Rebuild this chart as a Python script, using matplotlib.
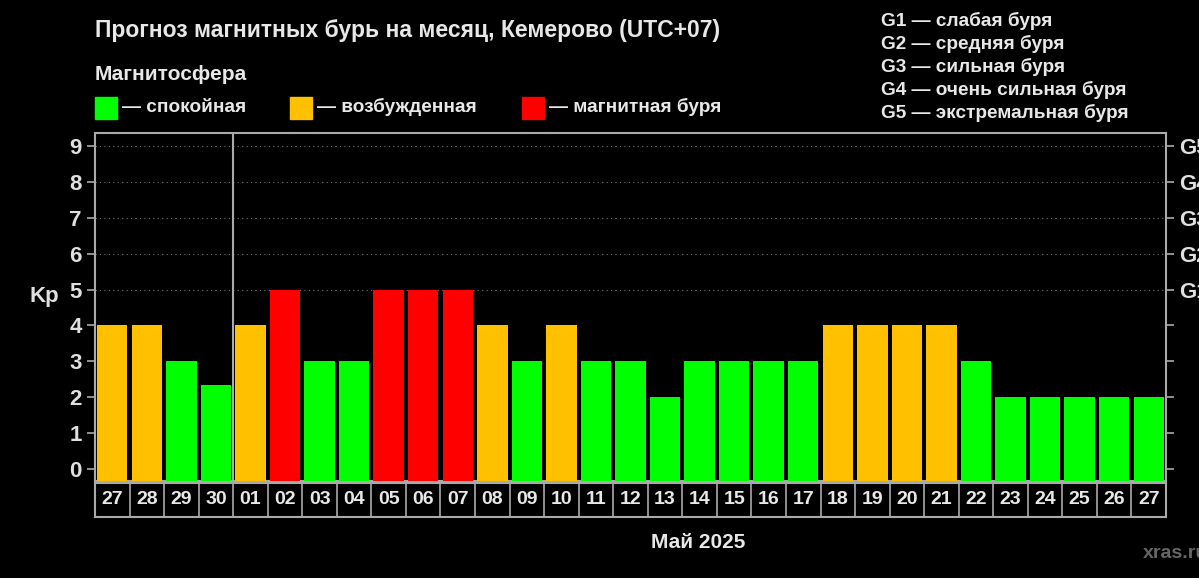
import matplotlib
matplotlib.use("Agg")
import matplotlib.pyplot as plt
from matplotlib.patches import Rectangle

days = ["27","28","29","30","01","02","03","04","05","06","07","08","09","10","11","12","13","14","15","16","17","18","19","20","21","22","23","24","25","26","27"]
kp = [4,4,3,2.33,4,5,3,3,5,5,5,4,3,4,3,3,2,3,3,3,3,4,4,4,4,3,2,2,2,2,2]
g_labels = ["G1","G2","G3","G4","G5"]
g_texts = ["G1 — слабая буря","G2 — средняя буря","G3 — сильная буря","G4 — очень сильная буря","G5 — экстремальная буря"]
legend_items = [("— спокойная","#00FF00"),("— возбужденная","#FFC000"),("— магнитная буря","#FF0000")]

plt.rcParams['font.family'] = ['Liberation Sans', 'DejaVu Sans']
plt.rcParams['font.weight'] = 'bold'
W, H = 1199, 578
fig = plt.figure(figsize=(W/100, H/100), dpi=100, facecolor='black')

def fx(px): return px / W
def fy(py): return 1 - py / H

ax = fig.add_axes([fx(95), fy(481), fx(1166)-fx(95), fy(133)-fy(481)], facecolor='black')
n = len(kp)
ymin, ymax = -0.33, 9.36
ax.set_xlim(-0.5, n-0.5)
ax.set_ylim(ymin, ymax)

def col(v):
    if v >= 5: return "#FF0000"
    if v >= 4: return "#FFC000"
    return "#00FF00"

ax.bar(range(n), [v - ymin for v in kp], bottom=ymin, width=0.88, color=[col(v) for v in kp], zorder=3)
for y in range(5, 10):
    ax.axhline(y, color='#777777', linestyle=(0, (1, 3)), linewidth=0.8, zorder=1)
ax.axvline(3.5, color='#aaaaaa', linewidth=1.5, zorder=4)
for s in ax.spines.values():
    s.set_color('#aaaaaa'); s.set_linewidth(1.5)
ax.set_xticks([])
ax.set_yticks(range(10))
ax.tick_params(axis='y', colors='#aaaaaa', labelcolor='#e0e0e0', labelsize=16, length=6, width=1.2)
ax.set_ylabel("Kp", color='#e0e0e0', fontsize=16, rotation=0, labelpad=18, fontweight='bold')
ax2 = ax.twinx()
ax2.set_ylim(ymin, ymax)
ax2.set_yticks(range(10))
ax2.set_yticklabels([""]*5 + g_labels)
ax2.tick_params(axis='y', colors='#aaaaaa', labelcolor='#e0e0e0', labelsize=16, length=6, width=1.2)
for s in ax2.spines.values():
    s.set_visible(False)

# date row
axd = fig.add_axes([fx(95), fy(517), fx(1166)-fx(95), fy(483)-fy(517)], facecolor='black')
axd.set_xlim(-0.5, n-0.5); axd.set_ylim(0, 1)
axd.set_xticks([]); axd.set_yticks([])
for s in axd.spines.values():
    s.set_color('#aaaaaa'); s.set_linewidth(1.5)
for i, d in enumerate(days):
    if i > 0:
        axd.axvline(i-0.5, color='#aaaaaa', linewidth=1.2)
    axd.text(i, 0.5, d, color='#e8e8e8', fontsize=14, ha='center', va='center', fontweight='bold')

fig.text(fx(698), fy(543), "Май 2025", color='#e8e8e8', fontsize=15, ha='center', va='center', fontweight='bold')
fig.text(fx(1143), fy(553), "xras.ru", color='#666666', fontsize=14, ha='left', va='center', fontweight='bold')
fig.text(fx(95), fy(31), "Прогноз магнитных бурь на месяц, Кемерово (UTC+07)", color='#e8e8e8', fontsize=16.5, ha='left', va='center', fontweight='bold')
fig.text(fx(95), fy(74), "Магнитосфера", color='#e8e8e8', fontsize=15, ha='left', va='center', fontweight='bold')
xs = [95, 290, 522]
for (lab, c), x in zip(legend_items, xs):
    fig.patches.append(Rectangle((fx(x), fy(119)), fx(22), fy(97)-fy(119), transform=fig.transFigure, color=c))
    fig.text(fx(x+27), fy(107), lab, color='#e8e8e8', fontsize=13.7, ha='left', va='center', fontweight='bold')
for i, t in enumerate(g_texts):
    fig.text(fx(881), fy(21 + i*23), t, color='#e8e8e8', fontsize=13.7, ha='left', va='center', fontweight='bold')

fig.savefig("out.png", dpi=100, facecolor='black')
